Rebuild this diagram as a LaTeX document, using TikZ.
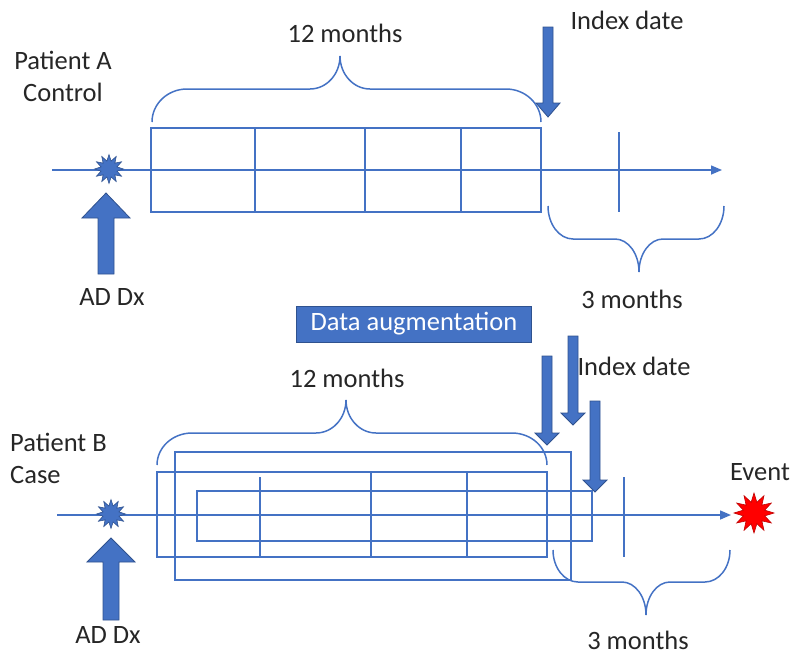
\documentclass[tikz,border=0pt]{standalone}
\usepackage{fontspec}
\setmainfont{Carlito}
\usetikzlibrary{shapes.geometric,arrows.meta}

\definecolor{lineblue}{HTML}{4472C4}
\definecolor{fillblue}{HTML}{4472C4}
\definecolor{edgeblue}{HTML}{2F528F}
\definecolor{txt}{HTML}{262626}
\definecolor{eventred}{HTML}{FF0000}
\definecolor{eventedge}{HTML}{C00000}

\tikzset{
  timeline/.style={draw=lineblue, line width=1.5pt, -{Triangle[length=11pt,width=9pt]}},
  grid/.style={draw=lineblue, line width=1.5pt},
  bracestyle/.style={draw=lineblue, line width=1.5pt},
  blockarrow/.style={fill=fillblue, draw=edgeblue, line width=0.8pt, line join=miter},
  label/.style={text=txt, font=\fontsize{26.5}{32}\selectfont, inner sep=0pt},
  burst/.style={star, star points=12, star point ratio=1.75, fill=fillblue, draw=edgeblue, line width=0.6pt, inner sep=0pt, minimum size=29pt},
  eventburst/.style={star, star points=12, star point ratio=1.8, fill=eventred, draw=eventedge, line width=0.6pt, inner sep=0pt, minimum size=40pt},
  banner/.style={fill=fillblue, draw=edgeblue, line width=0.6pt, text=white, font=\fontsize{26.5}{32}\selectfont, minimum width=235pt, minimum height=36pt, inner sep=0pt}
}

% horizontal curly brace: x-left, x-right, x-tip, y-ends, y-bar, y-tip, end radius, tip radius
\newcommand\timebrace[8]{%
  \draw[bracestyle]
    (#1,#4) .. controls (#1,{#4+0.552*(#5-#4)}) and ({#1+0.448*#7},#5) .. ({#1+#7},#5)
    -- ({#3-#8},#5)
    .. controls ({#3-0.448*#8},#5) and (#3,{#6+0.552*(#5-#6)}) .. (#3,#6)
    .. controls (#3,{#6+0.552*(#5-#6)}) and ({#3+0.448*#8},#5) .. ({#3+#8},#5)
    -- ({#2-#7},#5)
    .. controls ({#2-0.448*#7},#5) and (#2,{#4+0.552*(#5-#4)}) .. (#2,#4);}

% downward block arrow: centre x, top, head base, tip
\newcommand\idxarrow[4]{%
  \draw[blockarrow] ({#1-5},#2) -- ({#1+5},#2) -- ({#1+5},#3) -- ({#1+12},#3)
    -- (#1,#4) -- ({#1-12},#3) -- ({#1-5},#3) -- cycle;}

% upward block arrow: centre x, tip, head base, bottom
\newcommand\dxarrow[4]{%
  \draw[blockarrow] ({#1-8},#4) -- ({#1-8},#3) -- ({#1-24},#3) -- (#1,#2)
    -- ({#1+24},#3) -- ({#1+8},#3) -- ({#1+8},#4) -- cycle;}

\begin{document}
\begin{tikzpicture}[x=1pt, y=-1pt]
\useasboundingbox (0,0) rectangle (795,659);

% ---------- Patient A (control) ----------
\node[label, align=center] (patA) at (63,76) {Patient A\\Control};

\coordinate (a0) at (52,170);
\coordinate (a1) at (722,170);
\draw[timeline] (a0) -- (a1);

\node[burst] (dxA) at (109,169) {};
\dxarrow{106}{193}{218}{274}
\node[label] (adA) at (112,297) {AD Dx};

% 12-month window
\draw[grid] (151,128) rectangle (541,212);
\foreach \x in {255,365,461} \draw[grid] (\x,128) -- (\x,212);
\timebrace{152}{541}{340}{122}{89}{56}{35}{30}
\node[label] (mA) at (345,33) {12 months};

% index date
\idxarrow{548}{27}{103}{117}
\node[label] (idxA) at (627,20) {Index date};

% 3-month horizon
\draw[grid] (619,132) -- (619,212);
\timebrace{548}{724}{639}{206}{239}{272}{25}{24}
\node[label] (hA) at (632,299) {3 months};

% ---------- banner ----------
\node[banner] (aug) at (414,324) {Data augmentation};

% ---------- Patient B (case) ----------
\node[label, align=left, anchor=west] (patB) at (10,458) {Patient B\\Case};

\coordinate (b0) at (57,515);
\coordinate (b1) at (731,515);
\draw[timeline] (b0) -- (b1);

\node[burst] (dxB) at (111,514) {};
\dxarrow{111}{538}{562}{620}
\node[label] (adB) at (108,635) {AD Dx};

% shifted 12-month windows
\draw[grid] (157,472) rectangle (547,557);
\draw[grid] (175,452) rectangle (571,580);
\draw[grid] (197,491) rectangle (592,541);
\draw[grid] (260,477) -- (260,557);
\draw[grid] (371,472) -- (371,557);
\draw[grid] (467,472) -- (467,557);
\timebrace{157}{547}{346}{465}{433}{400}{35}{30}
\node[label] (mB) at (347,378) {12 months};

% shifted index dates
\idxarrow{547}{356}{433}{445}
\idxarrow{573}{336}{413}{425}
\idxarrow{595}{401}{480}{492}
\node[label] (idxB) at (634,366) {Index date};

% 3-month horizon
\draw[grid] (624,477) -- (624,557);
\timebrace{553}{730}{646}{550}{582}{615}{25}{24}
\node[label] (hB) at (638,640) {3 months};

% outcome
\node[eventburst] (ev) at (754,513) {};
\node[label] (evt) at (760,472) {Event};
\end{tikzpicture}
\end{document}
